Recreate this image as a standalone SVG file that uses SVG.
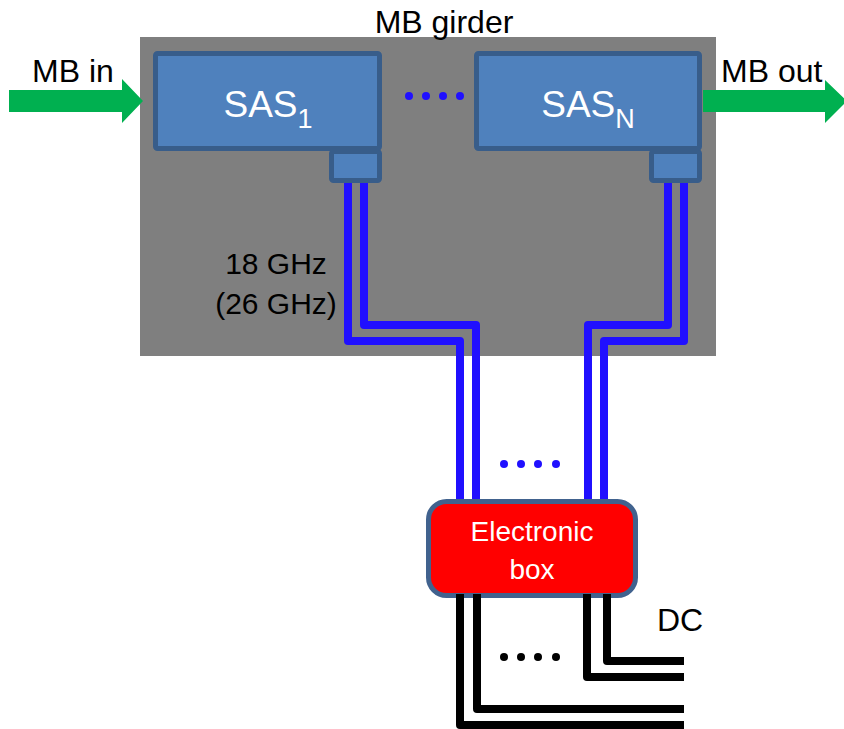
<svg xmlns="http://www.w3.org/2000/svg" width="844" height="729" viewBox="0 0 844 729">
<style>
text{font-family:"Liberation Sans",Arial,sans-serif;}
.lbl{fill:#000;font-size:32px;}
.freq{fill:#000;font-size:30px;text-anchor:middle;}
.sas{fill:#4f81bd;stroke:#385d8a;stroke-width:5;}
.sastxt{fill:#fff;font-size:37px;text-anchor:middle;}
.boxtxt{fill:#fff;font-size:28px;text-anchor:middle;}
.coax{fill:none;stroke:#2010ff;stroke-width:8;stroke-linejoin:round;}
.dc{fill:none;stroke:#000;stroke-width:8;stroke-linejoin:round;}
.bdot{fill:#2010ff;}
.kdot{fill:#000;}
.arrow{fill:#00b050;}
</style>
<rect id="girder" x="140" y="37" width="576" height="319" fill="#7f7f7f"/>
<text x="444" y="33" class="lbl" text-anchor="middle">MB girder</text>

<g id="mb-in">
<polygon class="arrow" points="9,90 122,90 122,79 143,101 122,123 122,112 9,112"/>
<text x="32" y="82" class="lbl">MB in</text>
</g>
<g id="mb-out">
<polygon class="arrow" points="703,90 825,90 825,80 847,101 825,123 825,112 703,112"/>
<text x="721" y="82" class="lbl">MB out</text>
</g>

<g id="connectors">
<path class="coax" d="M348,183 V341 H460 V502"/>
<path class="coax" d="M364,183 V325 H476 V502"/>
<path class="coax" d="M668,183 V325 H588 V502"/>
<path class="coax" d="M684,183 V341 H604 V502"/>
</g>

<g id="sas1">
<rect class="sas" x="331.5" y="151.5" width="48" height="29" rx="2"/>
<rect class="sas" x="155.5" y="53.5" width="224" height="95" rx="2"/>
<text x="268" y="117" class="sastxt">SAS<tspan font-size="27" dy="11">1</tspan></text>
</g>
<g id="sasN">
<rect class="sas" x="651.5" y="151.5" width="48" height="29" rx="2"/>
<rect class="sas" x="476.5" y="53.5" width="223" height="95" rx="2"/>
<text x="588" y="117" class="sastxt">SAS<tspan font-size="27" dy="11">N</tspan></text>
</g>

<g id="dots-top">
<circle class="bdot" cx="409" cy="96" r="4"/>
<circle class="bdot" cx="426" cy="96" r="4"/>
<circle class="bdot" cx="443" cy="96" r="4"/>
<circle class="bdot" cx="460" cy="96" r="4"/>
</g>

<text x="276" y="274" class="freq">18 GHz</text>
<text x="276" y="314" class="freq">(26 GHz)</text>

<g id="dots-mid">
<circle class="bdot" cx="504" cy="464" r="4"/>
<circle class="bdot" cx="521" cy="464" r="4"/>
<circle class="bdot" cx="538" cy="464" r="4"/>
<circle class="bdot" cx="556" cy="464" r="4"/>
</g>

<g id="electronic-box">
<rect x="428.5" y="501.5" width="207" height="94" rx="18" fill="#ff0000" stroke="#41628e" stroke-width="5"/>
<text x="532" y="541" class="boxtxt">Electronic</text>
<text x="532" y="579" class="boxtxt">box</text>
</g>

<g id="dc-lines">
<path class="dc" d="M460,594 V725 H684"/>
<path class="dc" d="M477,594 V709 H684"/>
<path class="dc" d="M587,594 V677 H684"/>
<path class="dc" d="M607,594 V661 H684"/>
</g>

<g id="dots-bottom">
<circle class="kdot" cx="504" cy="657" r="4"/>
<circle class="kdot" cx="521" cy="657" r="4"/>
<circle class="kdot" cx="538" cy="657" r="4"/>
<circle class="kdot" cx="556" cy="657" r="4"/>
</g>
<text x="657" y="631" class="lbl">DC</text>
</svg>
